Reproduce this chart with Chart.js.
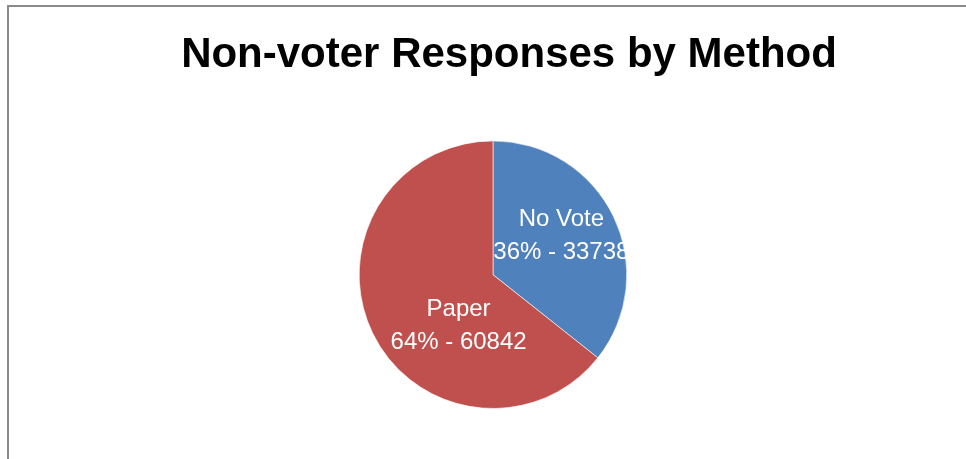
<!DOCTYPE html>
<html>
<head>
<meta charset="utf-8">
<title>Non-voter Responses by Method</title>
<script src="https://cdn.jsdelivr.net/npm/chart.js@4.4.1/dist/chart.umd.min.js"></script>
<style>
  html, body { margin: 0; padding: 0; background: #ffffff; overflow: hidden; }
  #marco {
    position: absolute;
    left: 7px; top: 5px;
    width: 1000px; height: 500px;
    border-left: 2px solid #8a8a8a;
    border-top: 2px solid #8a8a8a;
  }
  #lienzo { position: absolute; left: 0; top: 0; }
</style>
</head>
<body>
<div id="marco"></div>
<canvas id="lienzo" width="966" height="459"></canvas>
<script>
// Datos del gráfico
const categorias = ["No Vote", "Paper"];
const respuestas = [33738, 60842];
const colores = ["#4F81BD", "#C0504D"];

// Posición de cada etiqueta: ángulo (grados desde arriba, sentido horario) y fracción del radio
const posEtiquetas = [
  { angulo: 60, radio: 0.59 },
  { angulo: 214, radio: 0.46 }
];

const total = respuestas.reduce((a, b) => a + b, 0);

// Dibuja las etiquetas "Categoría / % - valor" dentro de cada porción
const etiquetasPorcion = {
  id: "etiquetasPorcion",
  afterDatasetsDraw(chart) {
    const ctx = chart.ctx;
    const meta = chart.getDatasetMeta(0);
    ctx.save();
    ctx.fillStyle = "#ffffff";
    ctx.font = "24px 'Liberation Sans', Arial, sans-serif";
    ctx.textAlign = "center";
    ctx.textBaseline = "middle";
    meta.data.forEach((arco, i) => {
      const p = posEtiquetas[i];
      const ang = (p.angulo - 90) * Math.PI / 180;
      const r = arco.outerRadius * p.radio;
      const x = arco.x + Math.cos(ang) * r;
      const y = arco.y + Math.sin(ang) * r;
      const valor = respuestas[i];
      const pct = Math.round(valor / total * 100);
      ctx.fillText(categorias[i], x, y - 16);
      ctx.fillText(pct + "% - " + valor, x, y + 17);
    });
    ctx.restore();
  }
};

// Desplaza el título un poco a la derecha respecto al círculo
const moverTitulo = {
  id: "moverTitulo",
  afterLayout(chart) {
    if (chart.titleBlock) {
      chart.titleBlock.left += 16;
      chart.titleBlock.right += 16;
    }
  }
};

const ctx = document.getElementById("lienzo").getContext("2d");
const chart = new Chart(ctx, {
  type: "pie",
  data: {
    labels: categorias,
    datasets: [{
      data: respuestas,
      backgroundColor: colores,
      borderColor: "rgba(255, 255, 255, 0.6)",
      borderWidth: 1
    }]
  },
  options: {
    responsive: false,
    animation: false,
    layout: {
      padding: { left: 20, right: 0, top: 0, bottom: 50 }
    },
    plugins: {
      legend: { display: false },
      tooltip: { enabled: false },
      title: {
        display: true,
        text: "Non-voter Responses by Method",
        color: "#000000",
        font: { family: "'Liberation Sans', Arial, sans-serif", size: 42, weight: "bold" },
        padding: { top: 30, bottom: 60 }
      }
    }
  },
  plugins: [etiquetasPorcion, moverTitulo]
});
</script>
</body>
</html>
